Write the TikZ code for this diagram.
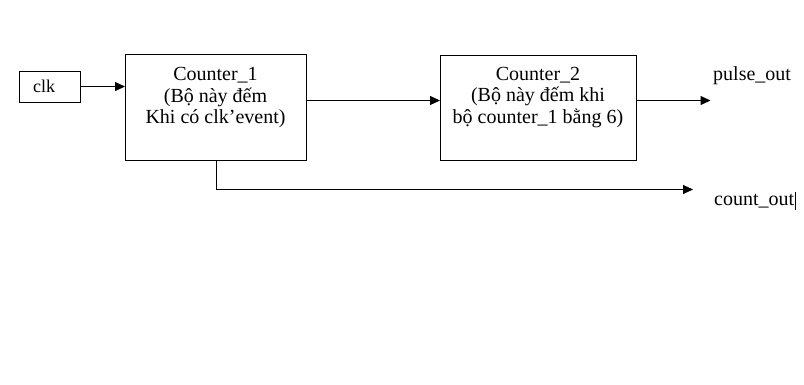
\documentclass[tikz,border=0pt]{standalone}
\usepackage{fontspec}
\setmainfont{Liberation Serif}
\usetikzlibrary{arrows.meta, positioning}
\tikzstyle{block} = [rectangle, draw=black, line width=1pt, inner sep=0pt, anchor=north west]
\tikzstyle{blocktext} = [anchor=north, align=center, inner sep=0pt, font=\fontsize{20}{21.5}\selectfont]
\tikzstyle{port} = [anchor=base west, inner sep=0pt, font=\fontsize{20}{21.5}\selectfont]
\tikzstyle{arrow} = [line width=1pt, -{Triangle[length=10pt,width=9pt]}]

\begin{document}
\begin{tikzpicture}[x=1pt, y=-1pt]
    \useasboundingbox (0,0) rectangle (804,384);
    \node (clk) [block, minimum width=61pt, minimum height=31pt] at (18.5,70.5) {};
    \node (clklbl) [port, font=\fontsize{18}{20}\selectfont] at (33,92.5) {clk};
    \node (c1) [block, minimum width=181pt, minimum height=106pt] at (125,54) {};
    \node (c1lbl) [blocktext] at (215.5,67.5) {Counter\_1\\(Bộ này đếm\\Khi có clk’event)};
    \node (c2) [block, minimum width=196pt, minimum height=105pt] at (440,55) {};
    \node (c2lbl) [blocktext] at (538,67) {Counter\_2\\(Bộ này đếm khi\\bộ counter\_1 bằng 6)};
    \node (pulse) [port] at (713,80) {pulse\_out};
    \node (cnt) [port] at (714,205) {count\_out};
    \coordinate (pulseend) at (710.5,100.5);
    \coordinate (cntend) at (693,189.5);

    \draw [arrow] (clk.east) -- (clk.east -| c1.west);
    \draw [arrow] ([yshift=7pt]c1.east) -- ([yshift=7pt]c1.east -| c2.west);
    \draw [arrow] (c2.east |- pulseend) -- (pulseend);
    \draw [arrow] (c1.south) |- (cntend);
    % text cursor after count_out
    \draw [line width=1.3pt] ([xshift=1pt,yshift=9pt]cnt.east) -- ([xshift=1pt,yshift=-9pt]cnt.east);
\end{tikzpicture}
\end{document}
